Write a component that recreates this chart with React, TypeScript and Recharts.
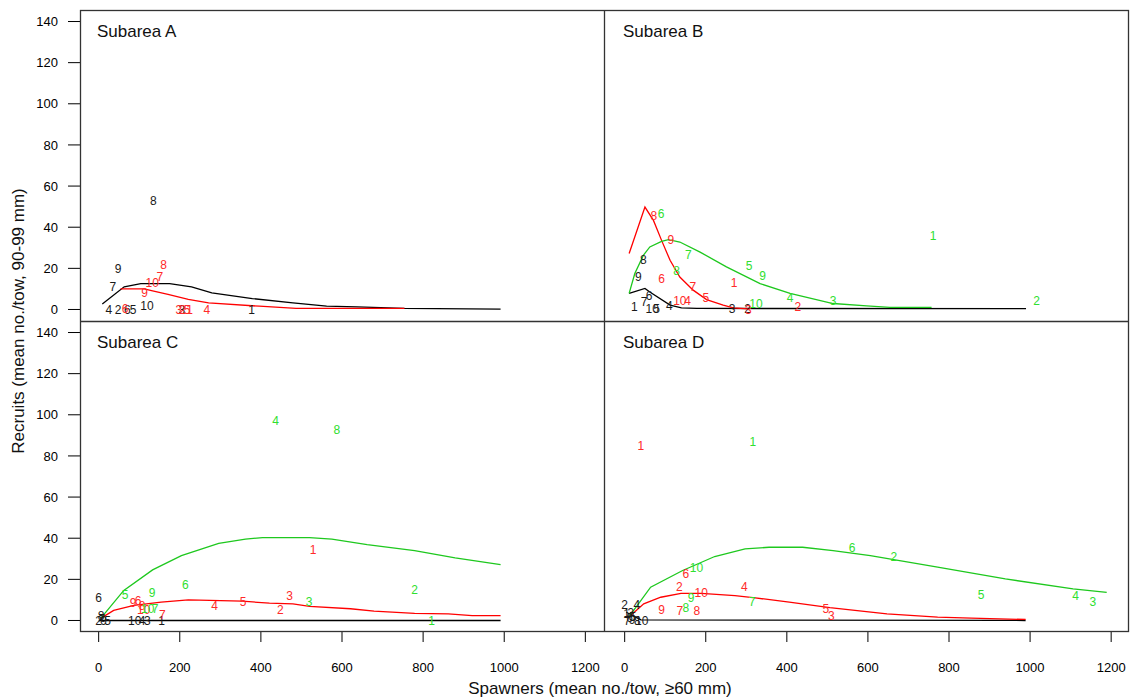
import { ComposedChart, Line, Scatter, XAxis, YAxis } from 'recharts';

// Each series: spawners (x) and recruits (y) for labelled years 1..10, plus fitted curve
const aBlackX = [377, 48, 205, 25, 85, 71, 35, 135, 48, 119];
const aBlackY = [0, 0, 0, 0, 0, 0, 11, 53, 20, 2];
const aRedX = [224, 207, 198, 267, 218, 65, 151, 160, 113, 132];
const aRedY = [0, 0, 0, 0, 0, 0.5, 16, 22, 8, 13];
const aBlackFitX = [9, 63, 104, 175, 229, 279, 379, 479, 562, 637, 754, 991];
const aBlackFitY = [2.7, 11, 12.6, 12.6, 11, 8.1, 5.3, 3.2, 1.6, 1.3, 0.5, 0.2];
const aRedFitX = [54, 112, 133, 171, 221, 271, 396, 487, 754];
const aRedFitY = [10, 10, 9, 7.3, 4.9, 3.2, 1.6, 0.5, 0.5];

const bBlackX = [24, 303, 265, 110, 79, 60, 48, 46, 34, 68];
const bBlackY = [1.3, 0.5, 0.5, 1.8, 0.5, 6.6, 3.7, 24, 16, 0.5];
const bRedX = [270, 427, 305, 155, 200, 91, 168, 72, 114, 136];
const bRedY = [12.9, 1.6, 0, 4.5, 5.8, 15, 11.3, 45.8, 34, 4.5];
const bGreenX = [761, 1016, 514, 408, 307, 90, 157, 128, 340, 324];
const bGreenY = [36, 4.2, 4.2, 5.8, 21.2, 46.6, 26.8, 19, 16.3, 2.6];
const bBlackFitX = [11, 50, 62, 112, 140, 178, 990];
const bBlackFitY = [7.8, 10.2, 8.5, 2.1, 0.8, 0.5, 0.4];
const bRedFitX = [11, 50, 71, 91, 112, 136, 169, 202, 243, 268, 304];
const bRedFitY = [27.2, 49.8, 43.3, 33.6, 23.9, 15.8, 9.4, 4.8, 2.1, 0.8, 0.3];
const bGreenFitX = [11, 25, 46, 62, 91, 108, 136, 186, 251, 334, 408, 514, 597, 654, 757];
const bGreenFitY = [7.8, 17.5, 26.3, 30.4, 33.1, 34, 32.8, 27.9, 20.7, 12.6, 7.8, 2.9, 1.8, 1, 1];

const cBlackX = [155, 0, 120, 107, 22, 0, 8, 6, 12, 89];
const cBlackY = [0, 0, 0, 0, 0, 11, 1, 2.4, 0, 0];
const cRedX = [529, 448, 471, 286, 356, 97, 157, 107, 85, 111];
const cRedY = [34.3, 5.2, 12.1, 7.3, 8.9, 9.7, 3, 7.3, 8.6, 5.2];
const cGreenX = [821, 779, 519, 436, 65, 214, 139, 587, 132, 121];
const cGreenY = [0, 14.9, 8.9, 97, 12.5, 17.5, 5.7, 93, 13.5, 5.7];
const cBlackFitX = [0, 991];
const cBlackFitY = [0, 0];
const cRedFitX = [5, 37, 87, 154, 221, 354, 421, 479, 520, 621, 679, 779, 862, 921, 991];
const cRedFitY = [1, 4.9, 7.3, 8.9, 10, 9.4, 8.4, 8.1, 6.9, 5.7, 4.5, 3.5, 3.2, 2.4, 2.4];
const cGreenFitX = [5, 62, 133, 204, 296, 362, 404, 520, 575, 662, 779, 879, 991];
const cGreenFitY = [1, 14.6, 24.6, 31.5, 37.5, 39.6, 40.3, 40.3, 39.6, 36.9, 34, 30.4, 27.2];

const dBlackX = [5, 0, 15, 30, 20, 12, 6, 31, 18, 42];
const dBlackY = [3.4, 7.6, 4, 7.6, 2, 1.5, 0, 0, 0.5, 0];
const dRedX = [40, 135, 510, 295, 496, 151, 136, 178, 91, 189];
const dRedY = [85, 16.2, 2.4, 16.2, 5.7, 22.7, 4.9, 4.9, 5.2, 13.7];
const dGreenX = [316, 664, 1155, 1112, 879, 561, 314, 151, 164, 177];
const dGreenY = [87, 31.1, 8.9, 12.1, 12.6, 35.6, 8.9, 6.2, 11, 25.9];
const dBlackFitX = [4, 40, 989];
const dBlackFitY = [4, 0.3, 0];
const dRedFitX = [10, 47, 89, 139, 189, 272, 322, 406, 506, 647, 772, 855, 989];
const dRedFitY = [1.6, 8.1, 11.3, 13.2, 13.2, 12.1, 11, 8.9, 6.2, 3.2, 1.6, 1.1, 0.5];
const dGreenFitX = [10, 64, 143, 222, 297, 356, 439, 514, 606, 772, 939, 1106, 1189];
const dGreenFitY = [1.6, 16.2, 24.3, 31.1, 34.8, 35.6, 35.6, 34, 31.5, 25.9, 20.2, 15.4, 13.7];

const yTicks = [0, 20, 40, 60, 80, 100, 120, 140];
const xTicks = [0, 200, 400, 600, 800, 1000, 1200];

const FONT = '"Liberation Sans", Arial, sans-serif';
const BLACK = '#000000';
const RED = '#ff0000';
const GREEN = '#1ec81e';
const LABEL_COLORS: Record<string, string> = { black: '#1a1a1a', red: '#ff2a2a', green: '#2fe02f' };
const LINE_COLORS: Record<string, string> = { black: BLACK, red: RED, green: GREEN };

const pts = (xs: number[], ys: number[]) => xs.map((x, i) => ({ x, y: ys[i], n: i + 1 }));
const fit = (xs: number[], ys: number[]) => xs.map((x, i) => ({ x, y: ys[i] }));

type Series = { key: string; points: { x: number; y: number; n: number }[]; curve: { x: number; y: number }[] };

const panels: { title: string; series: Series[] }[] = [
    {
        title: 'Subarea A',
        series: [
            { key: 'black', points: pts(aBlackX, aBlackY), curve: fit(aBlackFitX, aBlackFitY) },
            { key: 'red', points: pts(aRedX, aRedY), curve: fit(aRedFitX, aRedFitY) },
        ],
    },
    {
        title: 'Subarea B',
        series: [
            { key: 'black', points: pts(bBlackX, bBlackY), curve: fit(bBlackFitX, bBlackFitY) },
            { key: 'red', points: pts(bRedX, bRedY), curve: fit(bRedFitX, bRedFitY) },
            { key: 'green', points: pts(bGreenX, bGreenY), curve: fit(bGreenFitX, bGreenFitY) },
        ],
    },
    {
        title: 'Subarea C',
        series: [
            { key: 'black', points: pts(cBlackX, cBlackY), curve: fit(cBlackFitX, cBlackFitY) },
            { key: 'red', points: pts(cRedX, cRedY), curve: fit(cRedFitX, cRedFitY) },
            { key: 'green', points: pts(cGreenX, cGreenY), curve: fit(cGreenFitX, cGreenFitY) },
        ],
    },
    {
        title: 'Subarea D',
        series: [
            { key: 'black', points: pts(dBlackX, dBlackY), curve: fit(dBlackFitX, dBlackFitY) },
            { key: 'red', points: pts(dRedX, dRedY), curve: fit(dRedFitX, dRedFitY) },
            { key: 'green', points: pts(dGreenX, dGreenY), curve: fit(dGreenFitX, dGreenFitY) },
        ],
    },
];

const numberLabel = (color: string) => (props: any) => (
    <text
        x={props.cx}
        y={props.cy}
        dy="0.36em"
        textAnchor="middle"
        fill={color}
        fontSize={12}
        fontFamily={FONT}
    >
        {props.payload.n}
    </text>
);

function Panel({ index }: { index: number }) {
    const isLeft = index % 2 === 0;
    const isBottom = index >= 2;
    const { series } = panels[index];
    const xDomain = isLeft ? [-46, 1246] : [-51, 1244];
    const width = isLeft ? 604 : 525;
    const height = isBottom ? 377 : 311;
    return (
        <div style={{ position: 'absolute', left: isLeft ? 0 : 604, top: isBottom ? 321 : 10 }}>
            <ComposedChart width={width} height={height} margin={{ top: 0, right: 0, bottom: 0, left: 0 }}>
                <XAxis
                    type="number"
                    dataKey="x"
                    domain={xDomain}
                    ticks={xTicks}
                    hide={!isBottom}
                    height={66}
                    axisLine={false}
                    tickLine={{ stroke: '#000' }}
                    tickSize={10}
                    tickMargin={21}
                    tick={{ fill: '#000', fontSize: 13, fontFamily: FONT }}
                    interval={0}
                    allowDataOverflow
                />
                <YAxis
                    type="number"
                    dataKey="y"
                    domain={[-5.6, 145.6]}
                    ticks={yTicks}
                    hide={!isLeft}
                    width={80}
                    axisLine={false}
                    tickLine={{ stroke: '#000' }}
                    tickSize={12}
                    tickMargin={10}
                    tick={{ fill: '#000', fontSize: 13, fontFamily: FONT }}
                    interval={0}
                    allowDataOverflow
                />
                {series.map((s) => (
                    <Line
                        key={s.key + '-fit'}
                        data={s.curve}
                        dataKey="y"
                        type="linear"
                        stroke={LINE_COLORS[s.key]}
                        strokeWidth={1.3}
                        dot={false}
                        activeDot={false}
                        isAnimationActive={false}
                    />
                ))}
                {series.map((s) => (
                    <Scatter
                        key={s.key + '-pts'}
                        data={s.points}
                        dataKey="y"
                        shape={numberLabel(LABEL_COLORS[s.key])}
                        isAnimationActive={false}
                    />
                ))}
            </ComposedChart>
        </div>
    );
}

export default function App() {
    return (
        <div style={{ position: 'absolute', left: 0, top: 0, width: 1133, height: 698, background: '#fff', fontFamily: FONT }}>
            {panels.map((_, i) => (
                <Panel key={i} index={i} />
            ))}
            <svg width={1133} height={698} style={{ position: 'absolute', left: 0, top: 0, pointerEvents: 'none' }}>
                <rect x={80.5} y={10.5} width={1048} height={621} fill="none" stroke="#333" strokeWidth={1.3} />
                <line x1={604.5} y1={10} x2={604.5} y2={632} stroke="#333" strokeWidth={1.3} />
                <line x1={80} y1={321.5} x2={1129} y2={321.5} stroke="#333" strokeWidth={1.3} />
                {panels.map((p, i) => (
                    <text
                        key={p.title}
                        x={i % 2 === 0 ? 97 : 623}
                        y={i < 2 ? 37 : 348}
                        fontSize={17}
                        fontFamily={FONT}
                        fill="#111"
                    >
                        {p.title}
                    </text>
                ))}
                <text x={600} y={694} textAnchor="middle" fontSize={17} fontFamily={FONT} fill="#111">
                    Spawners (mean no./tow, ≥60 mm)
                </text>
                <text
                    x={24}
                    y={321}
                    textAnchor="middle"
                    fontSize={17}
                    fontFamily={FONT}
                    fill="#111"
                    transform="rotate(-90 24 321)"
                >
                    Recruits (mean no./tow, 90-99 mm)
                </text>
            </svg>
        </div>
    );
}
